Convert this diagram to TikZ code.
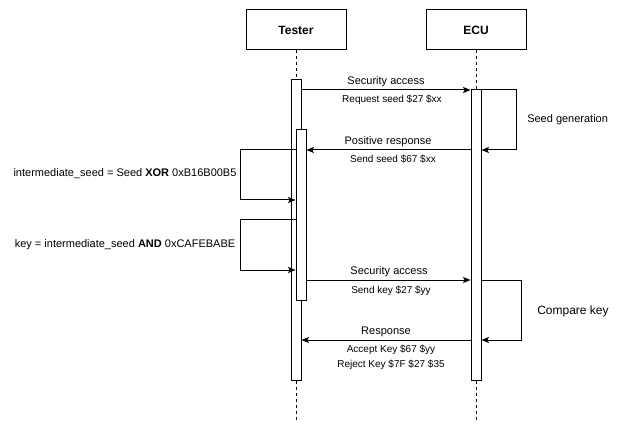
\documentclass[tikz,border=0pt]{standalone}
\usepackage{fontspec}
\setmainfont{Liberation Sans}
\usetikzlibrary{arrows.meta,positioning}

\tikzset{
  actor/.style={draw, line width=0.75pt, minimum width=75pt, minimum height=30pt, inner sep=0pt, font=\bfseries\fontsize{9}{11}\selectfont},
  actbar/.style={draw, line width=0.75pt, fill=white, minimum width=7.5pt, inner sep=0pt},
  lifeline/.style={line width=0.75pt, dash pattern=on 2.25pt off 2.25pt},
  msg/.style={line width=0.75pt, -{Stealth[length=5.5pt,width=4.5pt,inset=1pt]}},
  lbl/.style={font=\fontsize{8.25}{10}\selectfont, inner sep=0.75pt},
  sublbl/.style={font=\fontsize{7.5}{9}\selectfont, inner sep=0.75pt},
  note/.style={font=\fontsize{9}{11}\selectfont, inner sep=0.75pt, anchor=west},
}

\begin{document}
\begin{tikzpicture}[x=0.75pt,y=0.75pt,yscale=-1,xscale=1]
\useasboundingbox (0,0) rectangle (632,431);

% participants
\node[actor] (tester) at (296,30) {Tester};
\node[actor] (ecu) at (476,30) {ECU};

% message heights
\foreach \n/\y in {req/90,seed/150,xorin/200,andout/220,andin/270,key/280,resp/340,bottom/420}
  \coordinate (\n) at (0,\y);
\coordinate (loopL) at (240,0);
\coordinate (loopE1) at (516,0);
\coordinate (loopE2) at (521,0);

% lifelines
\draw[lifeline] (tester.south) -- (tester.south |- bottom);
\draw[lifeline] (ecu.south) -- (ecu.south |- bottom);

% activation bars
\node[actbar, minimum height=225pt] (barT) at (296,230) {};
\node[actbar, minimum height=217.5pt] (barE) at (476,235) {};
\node[actbar, minimum height=127.5pt] (barN) at (301,215) {};

% Security access (request seed)
\draw[msg] (barT.east |- req) -- (barE.west |- req);
\node[lbl] (reqA) at (386,81.5) {Security access};
\node[sublbl] (reqB) at (392,100) {Request seed \$27 \$xx};

% Seed generation
\draw[msg] (barE.east |- req) -- (loopE1 |- req) -- (loopE1 |- seed) -- (barE.east |- seed);
\node[note, font=\fontsize{8.25}{10}\selectfont] (seedgen) at (526,120) {Seed generation};

% Positive response
\draw[msg] (barE.west |- seed) -- (barN.east |- seed);
\node[lbl] (seedA) at (388,141.5) {Positive response};
\node[sublbl] (seedB) at (393,159) {Send seed \$67 \$xx};

% intermediate seed
\draw[msg] (barN.west |- seed) -- (loopL |- seed) -- (loopL |- xorin) -- (barN.west |- xorin);
\node[lbl] (xorlbl) at (125,174) {intermediate\_seed = Seed \textbf{XOR} 0xB16B00B5};

% key
\draw[msg] (barN.west |- andout) -- (loopL |- andout) -- (loopL |- andin) -- (barN.west |- andin);
\node[lbl] (andlbl) at (125,245) {key = intermediate\_seed \textbf{AND} 0xCAFEBABE};

% Security access (send key)
\draw[msg] (barN.east |- key) -- (barE.west |- key);
\node[lbl] (keyA) at (389,271.5) {Security access};
\node[sublbl] (keyB) at (391,291) {Send key \$27 \$yy};

% Compare key
\draw[msg] (barE.east |- key) -- (loopE2 |- key) -- (loopE2 |- resp) -- (barE.east |- resp);
\node[note] (cmp) at (536,311) {Compare key};

% Response
\draw[msg] (barE.west |- resp) -- (barT.east |- resp);
\node[lbl] (respA) at (386,331.5) {Response};
\node[sublbl] (respB) at (391,350) {Accept Key \$67 \$yy};
\node[sublbl] (respC) at (391,365) {Reject Key \$7F \$27 \$35};

\end{tikzpicture}
\end{document}
